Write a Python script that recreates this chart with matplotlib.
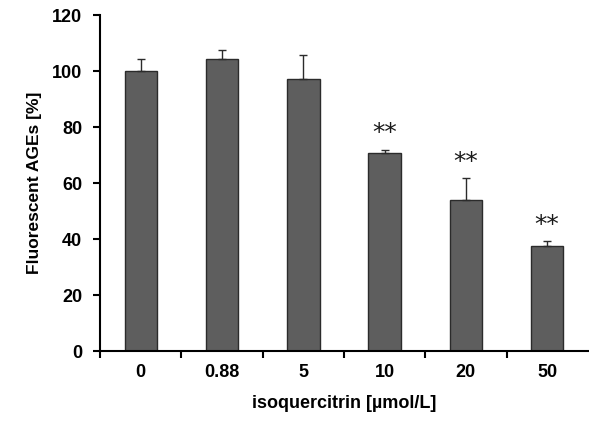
import matplotlib
matplotlib.use("Agg")
import matplotlib.pyplot as plt
import numpy as np

categories = ["0", "0.88", "5", "10", "20", "50"]
values = [100.0, 104.3, 97.1, 70.6, 53.9, 37.6]
errors = [4.5, 3.3, 8.6, 1.4, 8.0, 1.8]
stars = ["", "", "", "**", "**", "**"]

plt.rcParams['font.family'] = ['Liberation Sans', 'DejaVu Sans']

fig = plt.figure(figsize=(5.89, 4.21), dpi=100)
ax = fig.add_axes([0.170, 0.166, 0.828, 0.798])

x = np.arange(len(categories))
ax.bar(x, values, width=0.4, color='#5e5e5e', edgecolor='#2b2b2b', linewidth=1.0, zorder=2)
ax.errorbar(x, values, yerr=[np.zeros(len(values)), errors], fmt='none',
            ecolor='#2b2b2b', elinewidth=1.0, capsize=3, capthick=1.0, zorder=3)

for xi, v, e, s in zip(x, values, errors, stars):
    if s:
        ax.text(xi, v + e + 1.5, s, ha='center', va='bottom', fontsize=18,
                family='DejaVu Sans', color='#1a1a1a')

ax.set_xlim(-0.5, len(categories) - 0.5)
ax.set_ylim(0, 120)
ax.set_yticks(np.arange(0, 121, 20))
ax.set_yticklabels([str(v) for v in range(0, 121, 20)], fontsize=13, fontweight='bold')

ax.set_xticks(np.arange(-0.5, len(categories) - 0.5, 1.0))
ax.set_xticklabels([])
ax.set_xticks(x, minor=True)
ax.set_xticklabels(categories, minor=True, fontsize=13, fontweight='bold')
ax.tick_params(axis='x', which='minor', length=0, pad=9)
ax.tick_params(axis='x', which='major', length=5, width=1.5, direction='out')
ax.tick_params(axis='y', length=5, width=1.5, direction='out', pad=8)

for sp in ['top', 'right']:
    ax.spines[sp].set_visible(False)
for sp in ['left', 'bottom']:
    ax.spines[sp].set_linewidth(1.5)

ax.set_ylabel('Fluorescent AGEs [%]', fontsize=12.5, fontweight='bold', labelpad=7)
ax.set_xlabel('isoquercitrin [µmol/L]', fontsize=13, fontweight='bold', labelpad=10)

fig.savefig('out.png', dpi=100)
